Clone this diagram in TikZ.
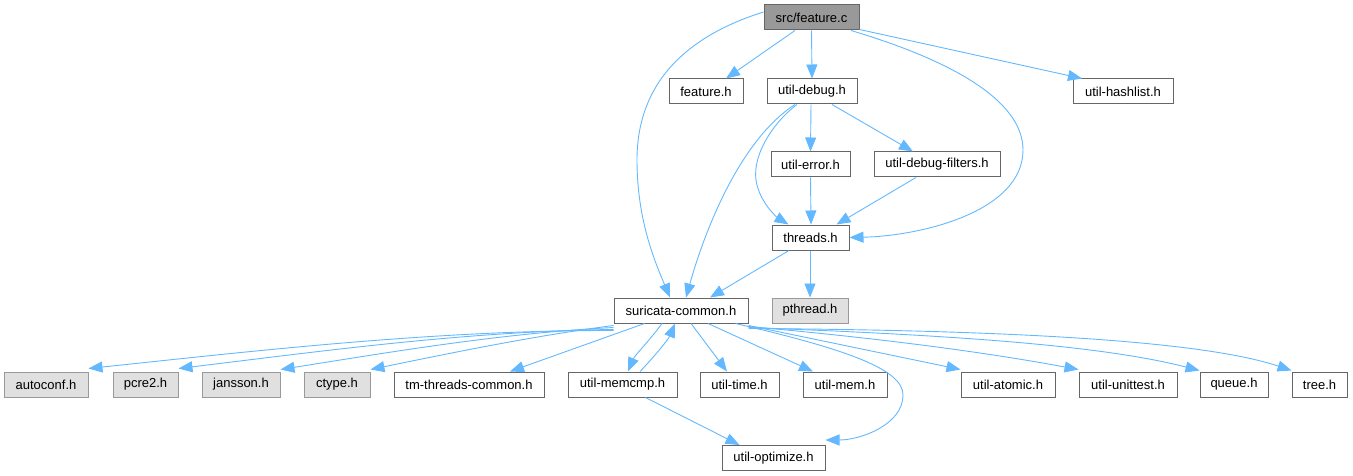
\documentclass[tikz,border=0pt]{standalone}
\usepackage{fontspec}
\setmainfont{Liberation Sans}
\usetikzlibrary{arrows.meta}
\definecolor{edgec}{HTML}{63B8FF}
\definecolor{rootfill}{HTML}{999999}
\definecolor{rootdraw}{HTML}{666666}
\definecolor{sysfill}{HTML}{E0E0E0}
\definecolor{sysdraw}{HTML}{999999}
\begin{document}
\begin{tikzpicture}[x=1pt,y=-1pt,
  box/.style={draw=rootdraw, fill=white, line width=1pt, minimum height=25pt, inner sep=0pt,
     font=\fontsize{13}{15}\selectfont, anchor=center},
  rootbox/.style={box, fill=rootfill, draw=rootdraw},
  sysbox/.style={box, fill=sysfill, draw=sysdraw},
  edge/.style={draw=edgec, line width=0.9pt, -{Triangle[length=14pt,width=11pt]}}]
\useasboundingbox (0,0) rectangle (1353,476);
% nodes
\node[rootbox, minimum width=95pt] (root) at (811.5,17.5) {src/feature.c};
\node[box, minimum width=74pt] (featureh) at (706,91.5) {feature.h};
\node[box, minimum width=90pt] (udebug) at (812,91.5) {util-debug.h};
\node[box, minimum width=100pt] (hashlist) at (1123,91.5) {util-hashlist.h};
\node[box, minimum width=79pt] (uerror) at (810.5,164.5) {util-error.h};
\node[box, minimum width=126pt] (udfilters) at (937,164.5) {util-debug-filters.h};
\node[box, minimum width=77pt] (threads) at (810.5,237.5) {threads.h};
\node[box, minimum width=134pt] (common) at (681,310.5) {suricata-common.h};
\node[sysbox, minimum width=76pt] (pthread) at (810,310.5) {pthread.h};
\node[sysbox, minimum width=84pt] (autoconf) at (46,384.5) {autoconf.h};
\node[sysbox, minimum width=65pt] (pcre) at (145.5,384.5) {pcre2.h};
\node[sysbox, minimum width=78pt] (jansson) at (241,384.5) {jansson.h};
\node[sysbox, minimum width=66pt] (ctype) at (337,384.5) {ctype.h};
\node[box, minimum width=150pt] (tmthreads) at (469,384.5) {tm-threads-common.h};
\node[box, minimum width=109pt] (memcmp) at (622.5,384.5) {util-memcmp.h};
\node[box, minimum width=79pt] (utime) at (739.5,384.5) {util-time.h};
\node[box, minimum width=84pt] (umem) at (845,384.5) {util-mem.h};
\node[box, minimum width=94pt] (uatomic) at (1008,384.5) {util-atomic.h};
\node[box, minimum width=98pt] (unittest) at (1128,384.5) {util-unittest.h};
\node[box, minimum width=68pt] (queue) at (1234,384.5) {queue.h};
\node[box, minimum width=55pt] (tree) at (1319.5,384.5) {tree.h};
\node[box, minimum width=103pt] (uoptimize) at (773.5,458) {util-optimize.h};
% edges from root
\draw[edge] ([yshift=5.5pt]root.west) .. controls (690,35) and (637,80) .. (637,160)
   .. controls (637,220) and (655,262) .. ([xshift=-11pt]common.north);
\draw[edge] ([xshift=-16.5pt]root.south) -- ([xshift=20pt]featureh.north);
\draw[edge] (root.south) -- (udebug.north);
\draw[edge] ([xshift=39.5pt]root.south) .. controls (950,60) and (1023,100) .. (1023,150)
   .. controls (1023,212) and (920,236) .. (threads.east);
\draw[edge] ([yshift=1pt]root.south east) -- ([xshift=-41pt]hashlist.north);
% util-debug
\draw[edge] ([xshift=-1pt]udebug.south) -- (uerror.north);
\draw[edge] ([xshift=20pt]udebug.south) -- ([xshift=-24pt]udfilters.north);
\draw[edge] ([xshift=-15pt]udebug.south) .. controls (770,125) and (750,160) .. (757,185)
   .. controls (762,205) and (778,218) .. ([xshift=-22pt]threads.north);
\draw[edge] ([xshift=-17pt]udebug.south) .. controls (740,140) and (705,230) .. ([xshift=5pt]common.north);
\draw[edge] (uerror.south) -- ([xshift=0.5pt]threads.north);
\draw[edge] ([xshift=-21pt]udfilters.south) -- ([xshift=26pt]threads.north);
% threads
\draw[edge] ([xshift=-21.5pt]threads.south) -- ([xshift=29pt]common.north);
\draw[edge] ([xshift=-0.5pt]threads.south) -- (pthread.north);
% suricata-common
\draw[edge] ([yshift=-7pt]common.south west) .. controls (439,330) and (263,350) .. ([yshift=3pt]autoconf.north east);
\draw[edge] ([yshift=-6pt]common.south west) .. controls (469,331) and (323,351) .. ([yshift=3pt]pcre.north east);
\draw[edge] ([yshift=-4pt]common.south west) .. controls (503,333) and (391,352) .. ([yshift=2pt]jansson.north east);
\draw[edge] ([yshift=-2pt]common.south west) .. controls (533,336) and (451,353) .. ([yshift=2pt]ctype.north east);
\draw[edge] ([xshift=31pt]common.south west) -- ([xshift=41pt]tmthreads.north);
\draw[edge] ([xshift=-19pt]common.south) .. controls (650,340) and (635,355) .. ([xshift=5.5pt]memcmp.north);
\draw[edge] ([xshift=17.5pt]memcmp.north) .. controls (653,358) and (668,340) .. ([xshift=-6pt]common.south);
\draw[edge] ([xshift=10pt]common.south) -- ([xshift=-12.5pt]utime.north);
\draw[edge] ([xshift=27pt]common.south) -- ([xshift=-32pt]umem.north);
\draw[edge] ([xshift=-13pt]common.south east) .. controls (850,350) and (903,370) .. (903,395)
   .. controls (903,425) and (860,440) .. ([yshift=5pt]uoptimize.north east);
\draw[edge] ([xshift=0pt,yshift=-2pt]common.south east) -- ([yshift=2pt]uatomic.north west);
\draw[edge] ([yshift=-3pt]common.south east) .. controls (900,340) and (1000,355) .. ([yshift=2pt]unittest.north west);
\draw[edge] ([yshift=-4pt]common.south east) .. controls (950,335) and (1100,345) .. ([yshift=1pt]queue.north west);
\draw[edge] ([yshift=-5pt]common.south east) .. controls (1000,330) and (1200,340) .. ([yshift=1pt]tree.north west);
\draw[edge] ([xshift=-32pt]memcmp.south east) -- ([xshift=-34pt]uoptimize.north);
\end{tikzpicture}
\end{document}
